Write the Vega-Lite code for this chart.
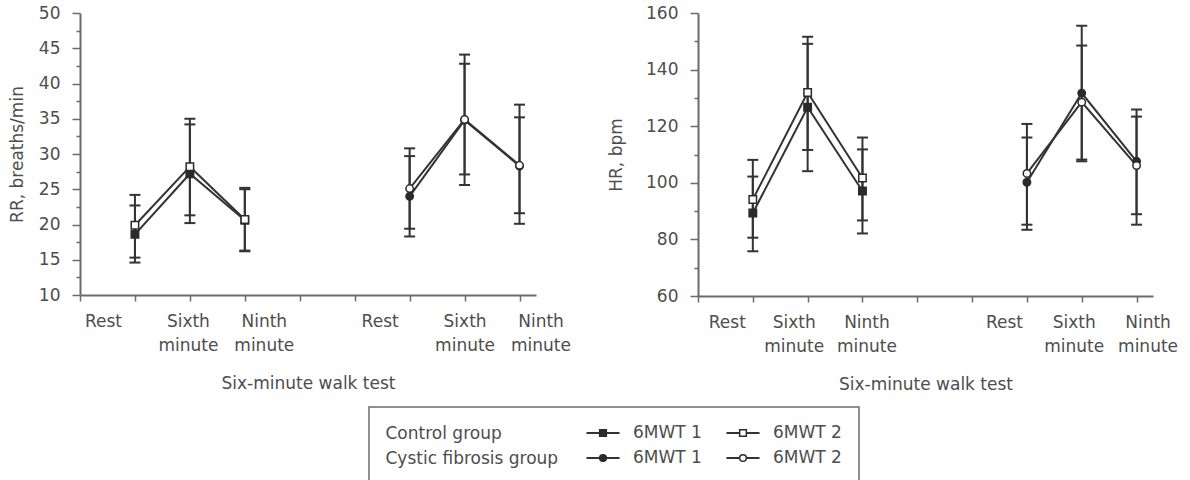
{
  "$schema": "https://vega.github.io/schema/vega-lite/v6.json",
  "background": "white",
  "padding": {"left": 8, "top": 4, "right": 0, "bottom": 0},
  "config": {
    "view": {"stroke": null},
    "font": "DejaVu Sans",
    "axis": {
      "labelFont": "DejaVu Sans",
      "titleFont": "DejaVu Sans",
      "labelFontSize": 17,
      "titleFontSize": 17,
      "titleFontWeight": "normal",
      "labelColor": "#4d4d4d",
      "titleColor": "#4d4d4d",
      "domainColor": "#6b6b6b",
      "tickColor": "#6b6b6b",
      "domainWidth": 2,
      "tickWidth": 1.5,
      "grid": false,
      "labelOverlap": false
    }
  },
  "datasets": {
    "rr": [
      {"group": "Control group", "test": "6MWT 1", "time": "Rest", "slot": 1, "mean": 18.6, "lo": 14.6, "hi": 22.7},
      {"group": "Control group", "test": "6MWT 1", "time": "Sixth minute", "slot": 2, "mean": 27.2, "lo": 20.2, "hi": 34.2},
      {"group": "Control group", "test": "6MWT 1", "time": "Ninth minute", "slot": 3, "mean": 20.6, "lo": 16.2, "hi": 25.0},
      {"group": "Control group", "test": "6MWT 2", "time": "Rest", "slot": 1, "mean": 19.9, "lo": 15.3, "hi": 24.2},
      {"group": "Control group", "test": "6MWT 2", "time": "Sixth minute", "slot": 2, "mean": 28.2, "lo": 21.3, "hi": 35.0},
      {"group": "Control group", "test": "6MWT 2", "time": "Ninth minute", "slot": 3, "mean": 20.7, "lo": 16.3, "hi": 25.2},
      {"group": "Cystic fibrosis group", "test": "6MWT 1", "time": "Rest", "slot": 6, "mean": 24.0, "lo": 18.3, "hi": 29.7},
      {"group": "Cystic fibrosis group", "test": "6MWT 1", "time": "Sixth minute", "slot": 7, "mean": 34.8, "lo": 25.6, "hi": 44.1},
      {"group": "Cystic fibrosis group", "test": "6MWT 1", "time": "Ninth minute", "slot": 8, "mean": 28.3, "lo": 20.1, "hi": 37.0},
      {"group": "Cystic fibrosis group", "test": "6MWT 2", "time": "Rest", "slot": 6, "mean": 25.1, "lo": 19.4, "hi": 30.8},
      {"group": "Cystic fibrosis group", "test": "6MWT 2", "time": "Sixth minute", "slot": 7, "mean": 34.9, "lo": 27.1, "hi": 42.8},
      {"group": "Cystic fibrosis group", "test": "6MWT 2", "time": "Ninth minute", "slot": 8, "mean": 28.4, "lo": 21.6, "hi": 35.2}
    ],
    "hr": [
      {"group": "Control group", "test": "6MWT 1", "time": "Rest", "slot": 1, "mean": 89.3, "lo": 75.8, "hi": 102.2},
      {"group": "Control group", "test": "6MWT 1", "time": "Sixth minute", "slot": 2, "mean": 126.7, "lo": 104.1, "hi": 149.1},
      {"group": "Control group", "test": "6MWT 1", "time": "Ninth minute", "slot": 3, "mean": 97.1, "lo": 82.1, "hi": 111.8},
      {"group": "Control group", "test": "6MWT 2", "time": "Rest", "slot": 1, "mean": 94.1, "lo": 80.6, "hi": 108.1},
      {"group": "Control group", "test": "6MWT 2", "time": "Sixth minute", "slot": 2, "mean": 131.9, "lo": 111.6, "hi": 151.6},
      {"group": "Control group", "test": "6MWT 2", "time": "Ninth minute", "slot": 3, "mean": 101.7, "lo": 86.7, "hi": 116.0},
      {"group": "Cystic fibrosis group", "test": "6MWT 1", "time": "Rest", "slot": 6, "mean": 100.2, "lo": 85.2, "hi": 116.0},
      {"group": "Cystic fibrosis group", "test": "6MWT 1", "time": "Sixth minute", "slot": 7, "mean": 131.7, "lo": 107.6, "hi": 155.5},
      {"group": "Cystic fibrosis group", "test": "6MWT 1", "time": "Ninth minute", "slot": 8, "mean": 107.6, "lo": 88.9, "hi": 125.9},
      {"group": "Cystic fibrosis group", "test": "6MWT 2", "time": "Rest", "slot": 6, "mean": 103.3, "lo": 83.4, "hi": 120.8},
      {"group": "Cystic fibrosis group", "test": "6MWT 2", "time": "Sixth minute", "slot": 7, "mean": 128.5, "lo": 108.2, "hi": 148.5},
      {"group": "Cystic fibrosis group", "test": "6MWT 2", "time": "Ninth minute", "slot": 8, "mean": 106.1, "lo": 85.2, "hi": 123.4}
    ],
    "key": [
      {"group": "Control group", "test": "6MWT 1"},
      {"group": "Control group", "test": "6MWT 2"},
      {"group": "Cystic fibrosis group", "test": "6MWT 1"},
      {"group": "Cystic fibrosis group", "test": "6MWT 2"}
    ]
  },
  "spacing": 14,
  "vconcat": [
    {
      "spacing": 36,
      "hconcat": [
        {
          "width": 456,
          "height": 282,
          "data": {"name": "rr"},
          "encoding": {
            "x": {
              "field": "slot",
              "type": "quantitative",
              "scale": {"domain": [0, 8.3], "nice": false, "zero": false},
              "axis": {
                "title": "Six-minute walk test",
                "values": [0, 1, 2, 3, 4, 5, 6, 7, 8],
                "labelExpr": "datum.value == 1 || datum.value == 6 ? 'Rest' : datum.value == 2 || datum.value == 7 ? ['Sixth', 'minute'] : datum.value == 3 || datum.value == 8 ? ['Ninth', 'minute'] : ''",
                "labelBaseline": "top",
                "labelLineHeight": 24,
                "labelPadding": 12,
                "labelFlush": false,
                "labelOverlap": false,
                "tickSize": 6,
                "titlePadding": 22,
                "labelOffset": {"expr": "datum.value == 1 ? -32 : datum.value == 2 ? -2 : datum.value == 3 ? 19 : datum.value == 6 ? -30 : datum.value == 8 ? 21 : 0"}
              }
            },
            "y": {
              "field": "mean",
              "type": "quantitative",
              "title": "RR, breaths/min",
              "scale": {"domain": [10, 50], "nice": false, "zero": false},
              "axis": {
                "values": [10, 12.5, 15, 17.5, 20, 22.5, 25, 27.5, 30, 32.5, 35, 37.5, 40, 42.5, 45, 47.5, 50],
                "labelExpr": "datum.value % 5 == 0 ? '' + datum.value : ''",
                "tickSize": {"expr": "datum.value % 5 == 0 ? 8 : 4"},
                "labelOverlap": false,
                "labelPadding": 12,
                "titlePadding": 12
              }
            }
          },
          "layer": [
            {
              "mark": {"type": "line", "color": "#333333", "strokeWidth": 2},
              "encoding": {"detail": [{"field": "group"}, {"field": "test"}]}
            },
            {
              "mark": {"type": "rule", "color": "#333333", "strokeWidth": 2},
              "encoding": {"y": {"field": "lo", "type": "quantitative"}, "y2": {"field": "hi"}}
            },
            {
              "mark": {"type": "tick", "orient": "horizontal", "color": "#333333", "size": 11, "thickness": 2, "opacity": 1},
              "encoding": {"y": {"field": "lo", "type": "quantitative"}}
            },
            {
              "mark": {"type": "tick", "orient": "horizontal", "color": "#333333", "size": 11, "thickness": 2, "opacity": 1},
              "encoding": {"y": {"field": "hi", "type": "quantitative"}}
            },
            {
              "mark": {"type": "point", "filled": true, "size": 55, "stroke": "#2b2b2b", "strokeWidth": 1.5, "opacity": 1},
              "encoding": {
                "shape": {"field": "group", "type": "nominal", "scale": {"domain": ["Control group", "Cystic fibrosis group"], "range": ["square", "circle"]}, "legend": null},
                "fill": {"field": "test", "type": "nominal", "scale": {"domain": ["6MWT 1", "6MWT 2"], "range": ["#2b2b2b", "#ffffff"]}, "legend": null}
              }
            },
            {
              "data": {"values": [{"tag": "a"}]},
              "mark": {"type": "point", "shape": "circle", "size": 960, "filled": false, "stroke": "#555555", "strokeWidth": 1.3},
              "encoding": {"x": {"datum": 8.42, "type": "quantitative"}, "y": {"datum": 47.2, "type": "quantitative"}}
            },
            {
              "data": {"values": [{"tag": "a"}]},
              "mark": {"type": "text", "font": "Liberation Serif", "fontSize": 21, "color": "#444444", "baseline": "middle", "align": "center", "dy": -1},
              "encoding": {"x": {"datum": 8.42, "type": "quantitative"}, "y": {"datum": 47.2, "type": "quantitative"}, "text": {"field": "tag"}}
            }
          ]
        },
        {
          "width": 455,
          "height": 283,
          "data": {"name": "hr"},
          "encoding": {
            "x": {
              "field": "slot",
              "type": "quantitative",
              "scale": {"domain": [0, 8.3], "nice": false, "zero": false},
              "axis": {
                "title": "Six-minute walk test",
                "values": [0, 1, 2, 3, 4, 5, 6, 7, 8],
                "labelExpr": "datum.value == 1 || datum.value == 6 ? 'Rest' : datum.value == 2 || datum.value == 7 ? ['Sixth', 'minute'] : datum.value == 3 || datum.value == 8 ? ['Ninth', 'minute'] : ''",
                "labelBaseline": "top",
                "labelLineHeight": 24,
                "labelPadding": 12,
                "labelFlush": false,
                "labelOverlap": false,
                "tickSize": 6,
                "titlePadding": 22,
                "labelOffset": {"expr": "datum.value == 1 ? -26 : datum.value == 2 ? -14 : datum.value == 3 ? 4 : datum.value == 6 ? -23 : datum.value == 7 ? -8 : datum.value == 8 ? 11 : 0"}
              }
            },
            "y": {
              "field": "mean",
              "type": "quantitative",
              "title": "HR, bpm",
              "scale": {"domain": [60, 160], "nice": false, "zero": false},
              "axis": {
                "values": [60, 70, 80, 90, 100, 110, 120, 130, 140, 150, 160],
                "labelExpr": "datum.value % 20 == 0 ? '' + datum.value : ''",
                "tickSize": {"expr": "datum.value % 20 == 0 ? 8 : 4"},
                "labelOverlap": false,
                "labelPadding": 12,
                "titlePadding": 20
              }
            }
          },
          "layer": [
            {
              "mark": {"type": "line", "color": "#333333", "strokeWidth": 2},
              "encoding": {"detail": [{"field": "group"}, {"field": "test"}]}
            },
            {
              "mark": {"type": "rule", "color": "#333333", "strokeWidth": 2},
              "encoding": {"y": {"field": "lo", "type": "quantitative"}, "y2": {"field": "hi"}}
            },
            {
              "mark": {"type": "tick", "orient": "horizontal", "color": "#333333", "size": 11, "thickness": 2, "opacity": 1},
              "encoding": {"y": {"field": "lo", "type": "quantitative"}}
            },
            {
              "mark": {"type": "tick", "orient": "horizontal", "color": "#333333", "size": 11, "thickness": 2, "opacity": 1},
              "encoding": {"y": {"field": "hi", "type": "quantitative"}}
            },
            {
              "mark": {"type": "point", "filled": true, "size": 55, "stroke": "#2b2b2b", "strokeWidth": 1.5, "opacity": 1},
              "encoding": {
                "shape": {"field": "group", "type": "nominal", "scale": {"domain": ["Control group", "Cystic fibrosis group"], "range": ["square", "circle"]}, "legend": null},
                "fill": {"field": "test", "type": "nominal", "scale": {"domain": ["6MWT 1", "6MWT 2"], "range": ["#2b2b2b", "#ffffff"]}, "legend": null}
              }
            },
            {
              "data": {"values": [{"tag": "b"}]},
              "mark": {"type": "point", "shape": "circle", "size": 960, "filled": false, "stroke": "#555555", "strokeWidth": 1.3},
              "encoding": {"x": {"datum": 8.39, "type": "quantitative"}, "y": {"datum": 152.6, "type": "quantitative"}}
            },
            {
              "data": {"values": [{"tag": "b"}]},
              "mark": {"type": "text", "font": "Liberation Serif", "fontSize": 21, "color": "#444444", "baseline": "middle", "align": "center", "dy": -1},
              "encoding": {"x": {"datum": 8.39, "type": "quantitative"}, "y": {"datum": 152.6, "type": "quantitative"}, "text": {"field": "tag"}}
            }
          ]
        }
      ]
    },
    {
      "spacing": 20,
      "hconcat": [
        {
          "width": 268,
          "height": 10,
          "data": {"values": []},
          "mark": "point"
        },
        {
          "width": 490,
          "height": 90,
          "view": {"stroke": "#6b6b6b", "strokeWidth": 1.5},
          "data": {"name": "key"},
          "encoding": {
            "x": {"field": "test", "type": "nominal", "scale": {"type": "point", "padding": 0, "domain": ["6MWT 1", "6MWT 2"], "range": [234, 374]}, "axis": null},
            "y": {
              "field": "group",
              "type": "nominal",
              "scale": {"type": "point", "padding": 0, "domain": ["Control group", "Cystic fibrosis group"], "range": [26, 51]},
              "axis": {"title": null, "domain": false, "ticks": false, "tickSize": 0, "labelAlign": "left", "labelPadding": -16, "labelFontSize": 17}
            }
          },
          "layer": [
            {"mark": {"type": "point", "shape": "stroke", "size": 1089, "strokeWidth": 1.8, "color": "#333333", "opacity": 1}},
            {
              "mark": {"type": "point", "filled": true, "size": 45, "stroke": "#2b2b2b", "strokeWidth": 1.5, "opacity": 1},
              "encoding": {
                "shape": {"field": "group", "type": "nominal", "scale": {"domain": ["Control group", "Cystic fibrosis group"], "range": ["square", "circle"]}, "legend": null},
                "fill": {"field": "test", "type": "nominal", "scale": {"domain": ["6MWT 1", "6MWT 2"], "range": ["#2b2b2b", "#ffffff"]}, "legend": null}
              }
            },
            {
              "mark": {"type": "text", "align": "left", "baseline": "middle", "dx": 30, "fontSize": 17, "color": "#4d4d4d"},
              "encoding": {"text": {"field": "test"}}
            }
          ]
        }
      ]
    }
  ]
}
